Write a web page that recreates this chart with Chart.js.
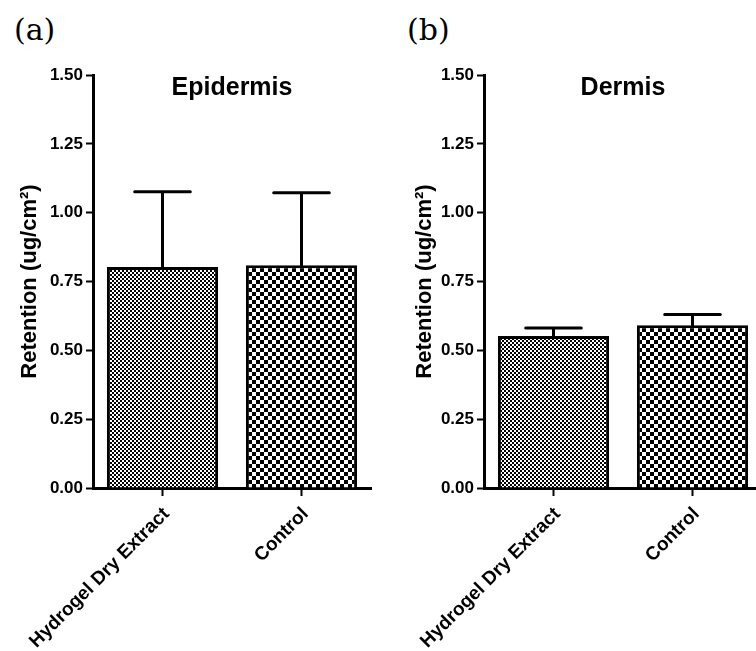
<!DOCTYPE html>
<html>
<head>
<meta charset="utf-8">
<script src="https://cdn.jsdelivr.net/npm/chart.js@4/dist/chart.umd.min.js"></script>
<style>
  html, body { margin: 0; padding: 0; background: #fff; }
  body { width: 756px; height: 651px; position: relative; overflow: hidden; }
  .panel { position: absolute; top: 0; height: 651px; }
  #panelA { left: 0; width: 380px; }
  #panelB { left: 378px; width: 390px; }
  .tag { position: absolute; top: 12px; font-family: "DejaVu Serif", serif; font-size: 30px; color: #000; }
</style>
</head>
<body>
<div class="tag" style="left:14px">(a)</div>
<div class="tag" style="left:407px">(b)</div>
<div class="panel" id="panelA"><canvas id="chartA"></canvas></div>
<div class="panel" id="panelB"><canvas id="chartB"></canvas></div>

<script>
// groups and measured retention (mean + SD, upper bar only)
const grupos = ['Hydrogel Dry Extract', 'Control'];
const epidermisMedia = [0.803, 0.809];
const epidermisDE = [0.273, 0.263];
const dermisMedia = [0.552, 0.591];
const dermisDE = [0.029, 0.039];
const yTicks = [0, 0.25, 0.5, 0.75, 1.0, 1.25, 1.5];

// checkerboard fill like the Prism hatches
function damero(celda) {
  const c = document.createElement('canvas');
  c.width = c.height = celda * 2;
  const g = c.getContext('2d');
  g.fillStyle = '#fff';
  g.fillRect(0, 0, celda * 2, celda * 2);
  g.fillStyle = '#000';
  g.fillRect(0, 0, celda, celda);
  g.fillRect(celda, celda, celda, celda);
  return g.createPattern(c, 'repeat');
}
const rellenos = [damero(2), damero(4)];

// upper error bar with a cap half as wide as the bar
const barrasError = {
  id: 'barrasError',
  afterDatasetsDraw(chart) {
    const { ctx, scales: { y } } = chart;
    const ds = chart.data.datasets[0];
    ctx.save();
    ctx.strokeStyle = '#000';
    ctx.lineWidth = 3;
    ctx.lineCap = 'round';
    chart.getDatasetMeta(0).data.forEach((bar, i) => {
      const tope = y.getPixelForValue(ds.data[i] + ds.errores[i]);
      const medio = bar.width / 4;
      ctx.beginPath();
      ctx.moveTo(bar.x, bar.y);
      ctx.lineTo(bar.x, tope);
      ctx.moveTo(bar.x - medio, tope);
      ctx.lineTo(bar.x + medio, tope);
      ctx.stroke();
    });
    ctx.restore();
  }
};

// panel heading sits inside the plot area
const tituloPanel = {
  id: 'tituloPanel',
  afterDraw(chart, args, opts) {
    const { ctx, chartArea } = chart;
    ctx.save();
    ctx.fillStyle = '#000';
    ctx.font = 'bold 25px "Liberation Sans", Arial, sans-serif';
    ctx.textAlign = 'center';
    ctx.textBaseline = 'middle';
    ctx.fillText(opts.text, (chartArea.left + chartArea.right) / 2, chartArea.top + 13);
    ctx.restore();
  }
};

function crearPanel(id, titulo, medias, errores, ejeX, tituloPad, derecha) {
  const fuente = { family: '"Liberation Sans", Arial, sans-serif', weight: 'bold' };
  return new Chart(document.getElementById(id), {
    type: 'bar',
    data: {
      labels: grupos,
      datasets: [{
        data: medias,
        errores: errores,
        backgroundColor: rellenos,
        borderColor: '#000',
        borderWidth: 3,
        borderSkipped: 'start',
        categoryPercentage: 1,
        barPercentage: 0.8
      }]
    },
    options: {
      responsive: true,
      maintainAspectRatio: false,
      animation: false,
      layout: { padding: { left: 0, top: 75, right: derecha, bottom: 0 } },
      plugins: {
        legend: { display: false },
        tooltip: { enabled: false },
        tituloPanel: { text: titulo }
      },
      scales: {
        x: {
          grid: { display: true, drawOnChartArea: false, offset: false, tickLength: 8, tickWidth: 2, tickColor: '#000' },
          border: { display: true, color: '#000', width: 3 },
          ticks: { color: '#000', font: { ...fuente, size: 19 }, maxRotation: 45, minRotation: 45, padding: 7, labelOffset: 4 },
          // long rotated labels may spill left; keep the plot where it is
          afterFit: s => { s.height = 651 - 488; s.paddingLeft = 0; s.paddingRight = 0; }
        },
        y: {
          min: 0,
          max: 1.5,
          afterBuildTicks: s => { s.ticks = yTicks.map(v => ({ value: v })); },
          grid: { display: true, drawOnChartArea: false, tickLength: 7, tickWidth: 2, tickColor: '#000' },
          border: { display: true, color: '#000', width: 3 },
          ticks: { color: '#000', font: { ...fuente, size: 17 }, padding: 3, callback: v => v.toFixed(2) },
          title: { display: true, text: 'Retention (ug/cm²)', color: '#000', font: { ...fuente, size: 22 }, padding: { top: tituloPad, bottom: 0 } },
          afterFit: s => { s.width = ejeX; }
        }
      }
    },
    plugins: [barrasError, tituloPanel]
  });
}

crearPanel('chartA', 'Epidermis', epidermisMedia, epidermisDE, 93, 17, 9);
crearPanel('chartB', 'Dermis', dermisMedia, dermisDE, 106, 34, 6);
</script>
</body>
</html>
